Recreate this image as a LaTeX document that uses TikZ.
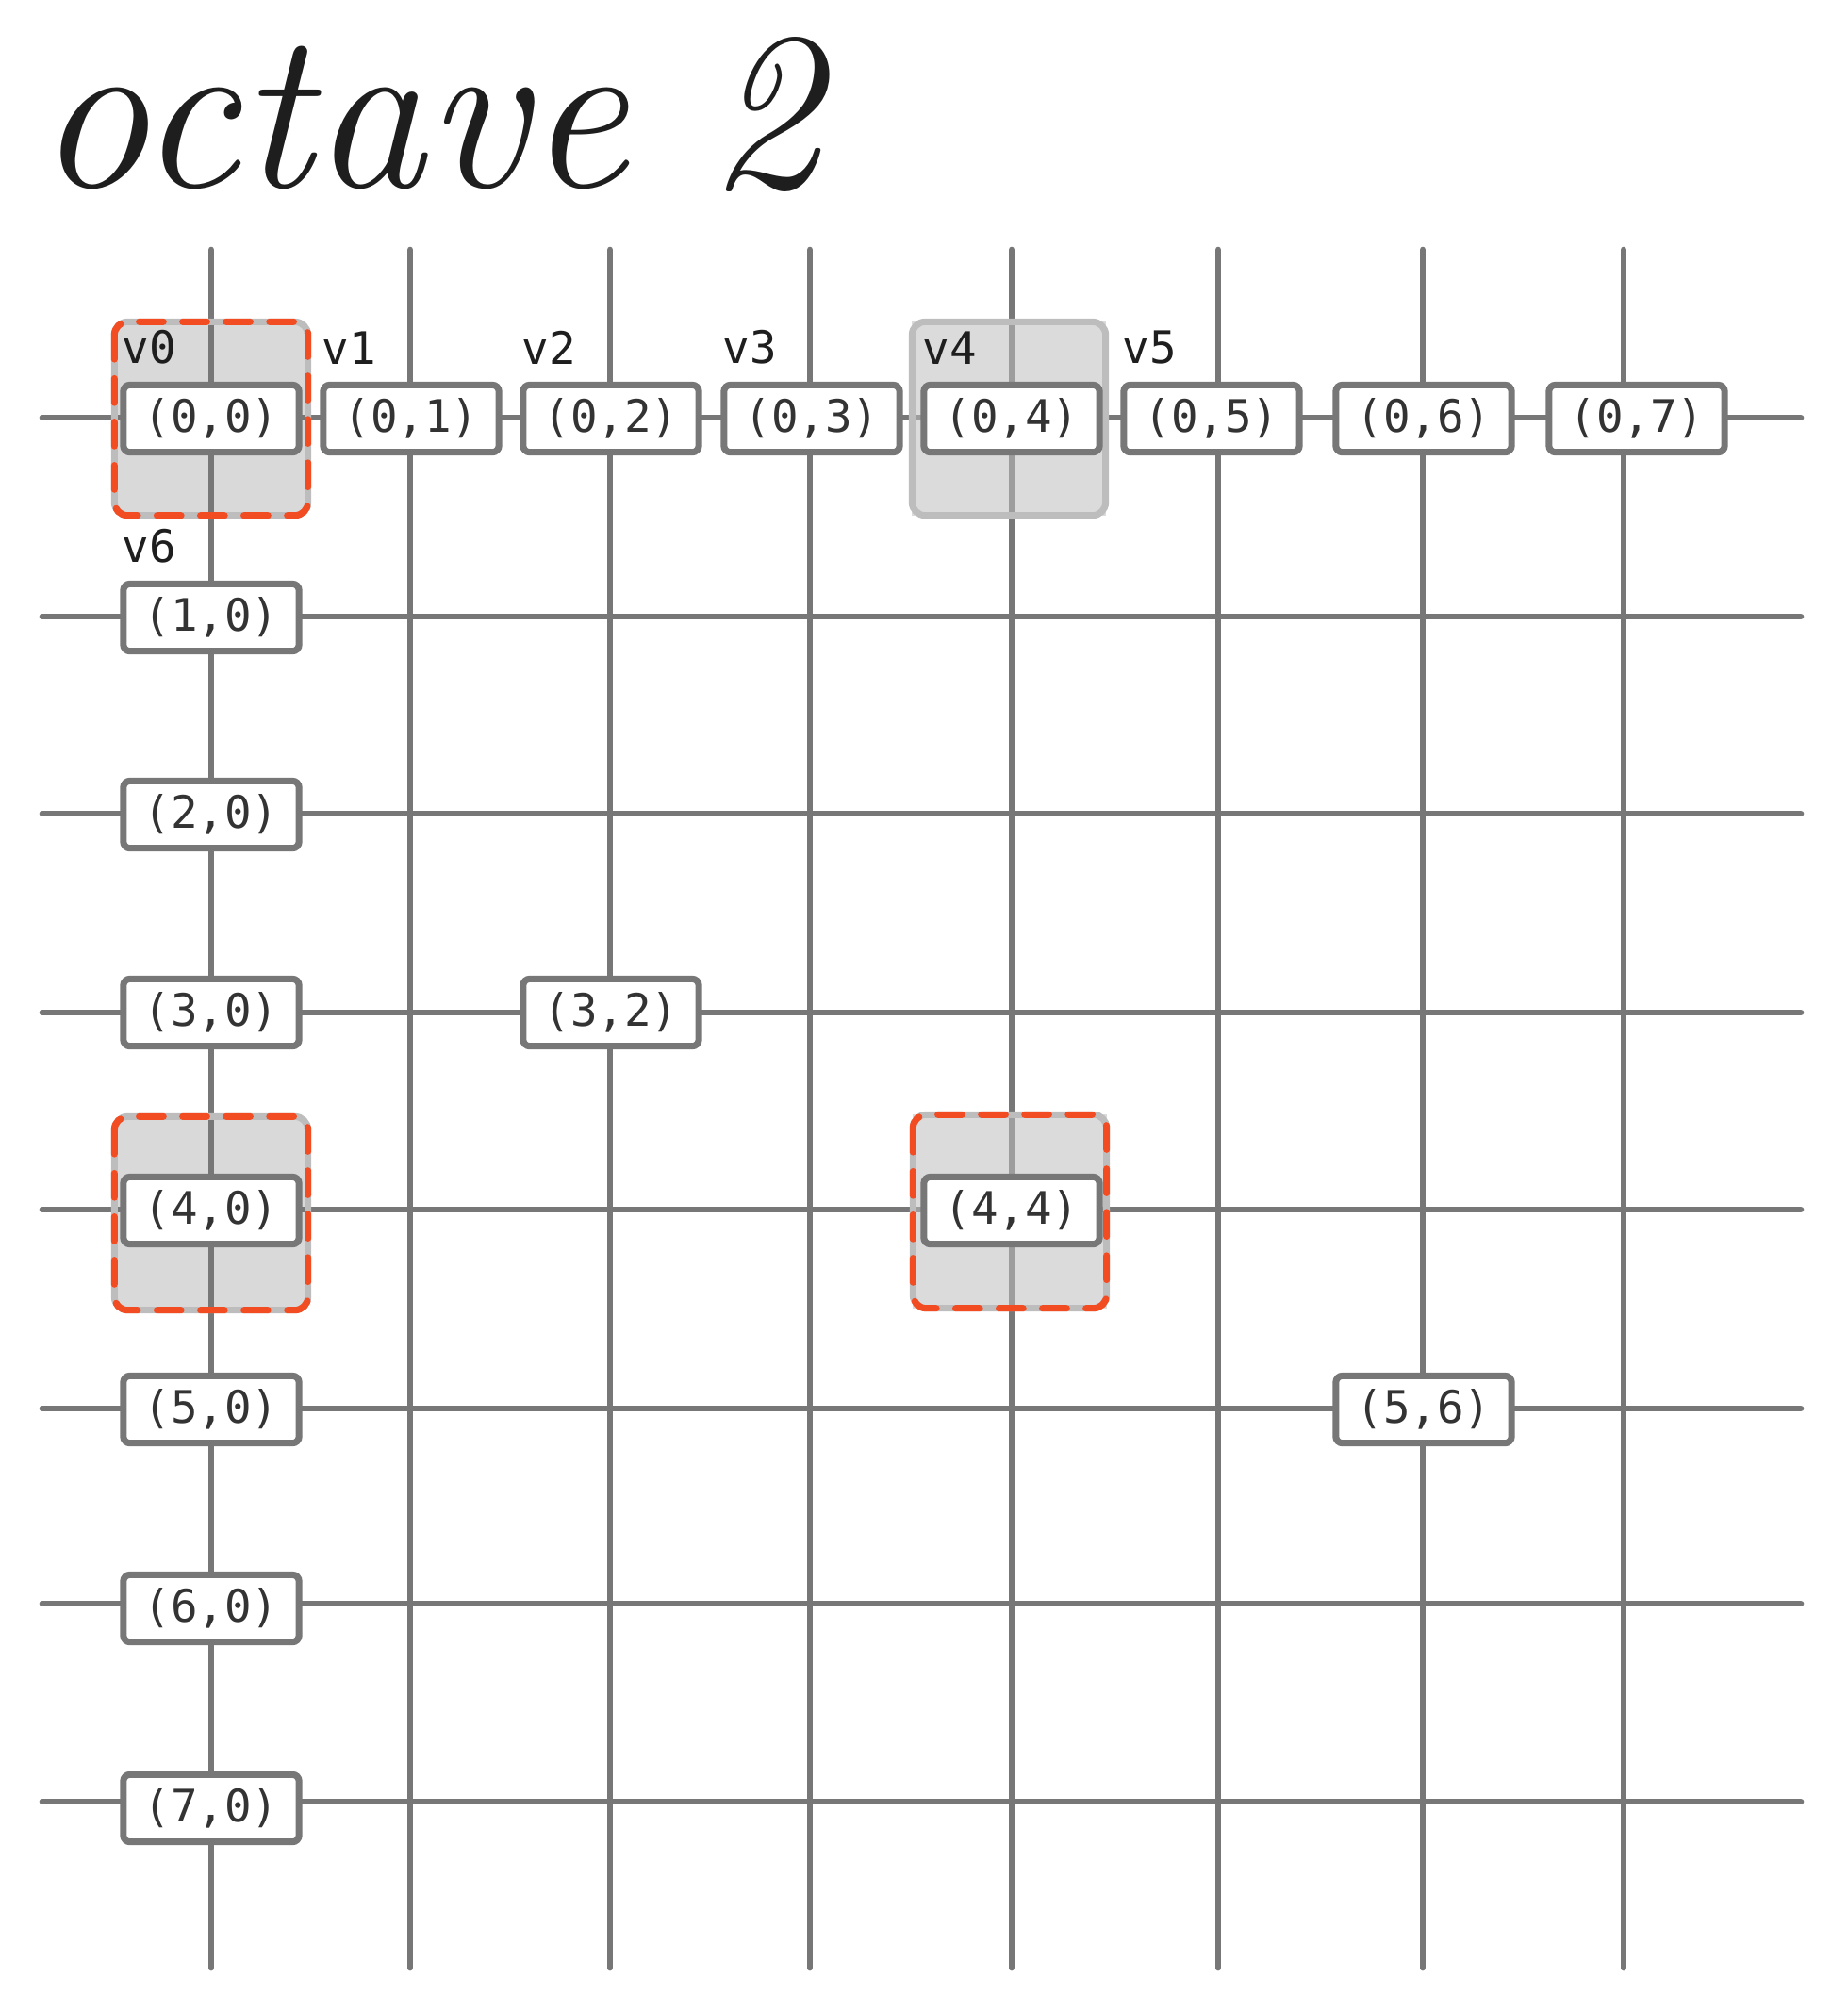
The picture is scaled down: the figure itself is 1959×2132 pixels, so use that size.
\documentclass[tikz,border=0pt]{standalone}
\usepackage{fontspec}
\usepackage{tikz}
\usetikzlibrary{positioning}
\newfontfamily\gridmono{DejaVu Sans Mono}
\definecolor{GridGrey}{HTML}{777777}
\definecolor{InkDark}{HTML}{1E1E1E}
\definecolor{TextGrey}{HTML}{333333}
\definecolor{MarkRed}{HTML}{F24C22}
\definecolor{MarkFill}{HTML}{D9D9D9}
\definecolor{MarkEdge}{HTML}{BDBDBD}

\begin{document}
\begin{tikzpicture}[
  x=0.01cm, y=-0.01cm,
  gridline/.style={draw=GridGrey,line width=1.9pt,line cap=round},
  cell/.style={draw=GridGrey,fill=white,line width=2pt,rounded corners=2pt,
    minimum width=53pt,minimum height=20.3pt,inner sep=0pt,
    font=\gridmono\fontsize{13.5}{15}\selectfont,text=TextGrey},
  vlabel/.style={font=\gridmono\fontsize{13.5}{15}\selectfont,text=InkDark,inner sep=0pt},
  markbox/.style={rectangle,minimum width=58.4pt,minimum height=58.4pt,inner sep=0pt,outer sep=0pt},
  markedge/.style={draw=MarkEdge,line width=2pt,rounded corners=4pt},
  redmark/.style={draw=MarkRed,line width=2pt,rounded corners=4pt,dash pattern=on 7.3pt off 5.8pt,line cap=round}
]
\useasboundingbox (0,0) rectangle (1959,2132);

% Title
\node[anchor=base west,inner sep=0pt,text=InkDark,font=\fontsize{68}{74}\selectfont\itshape]
  (title) at (38,198) {octave 2};

% Marked cells under the grid
\node[markbox] (mark00) at (224,444) {};
\node[markbox] (mark40) at (224,1287) {};
\fill[MarkFill,rounded corners=4pt] (mark00.north west) rectangle (mark00.south east);
\fill[MarkFill,rounded corners=4pt] (mark40.north west) rectangle (mark40.south east);

% Grid
\foreach \gx in {224,435,647,859,1073,1292,1509,1722}
  \draw[gridline] (\gx,265) -- (\gx,2087);
\foreach \gy in {443,654,863,1074,1283,1494,1701,1911}
  \draw[gridline] (45,\gy) -- (1910,\gy);

% Marked cells over the grid
\node[markbox,fill=MarkEdge,fill opacity=0.55] (mark04) at (1070,444) {};
\node[markbox,fill=MarkEdge,fill opacity=0.55] (mark44) at (1071,1285) {};
\foreach \m in {mark00,mark40,mark04,mark44}
  \draw[markedge] (\m.north west) rectangle (\m.south east);
\foreach \m in {mark00,mark40,mark44}
  \draw[redmark] (\m.north west) rectangle (\m.south east);

% Cells
\foreach \c/\cx in {0/224,1/436,2/648,3/861,4/1073,5/1285,6/1510,7/1736}
  \node[cell] (c0\c) at (\cx,444) {(0,\c)};
\foreach \r/\ry in {1/655,2/864,3/1074,4/1284,5/1495,6/1706,7/1918}
  \node[cell] (c\r0) at (224,\ry) {(\r,0)};
\node[cell] (c32) at (648,1074) {(3,2)};
\node[cell] (c44) at (1073,1284) {(4,4)};
\node[cell] (c56) at (1510,1495) {(5,6)};

% Vertex labels
\foreach \c in {0,...,5}
  \node[vlabel,above right=5pt and 0.5pt of c0\c.north west] (v\c) {v\c};
\node[vlabel,above right=5pt and 0.5pt of c10.north west] (v6) {v6};

\end{tikzpicture}
\end{document}
